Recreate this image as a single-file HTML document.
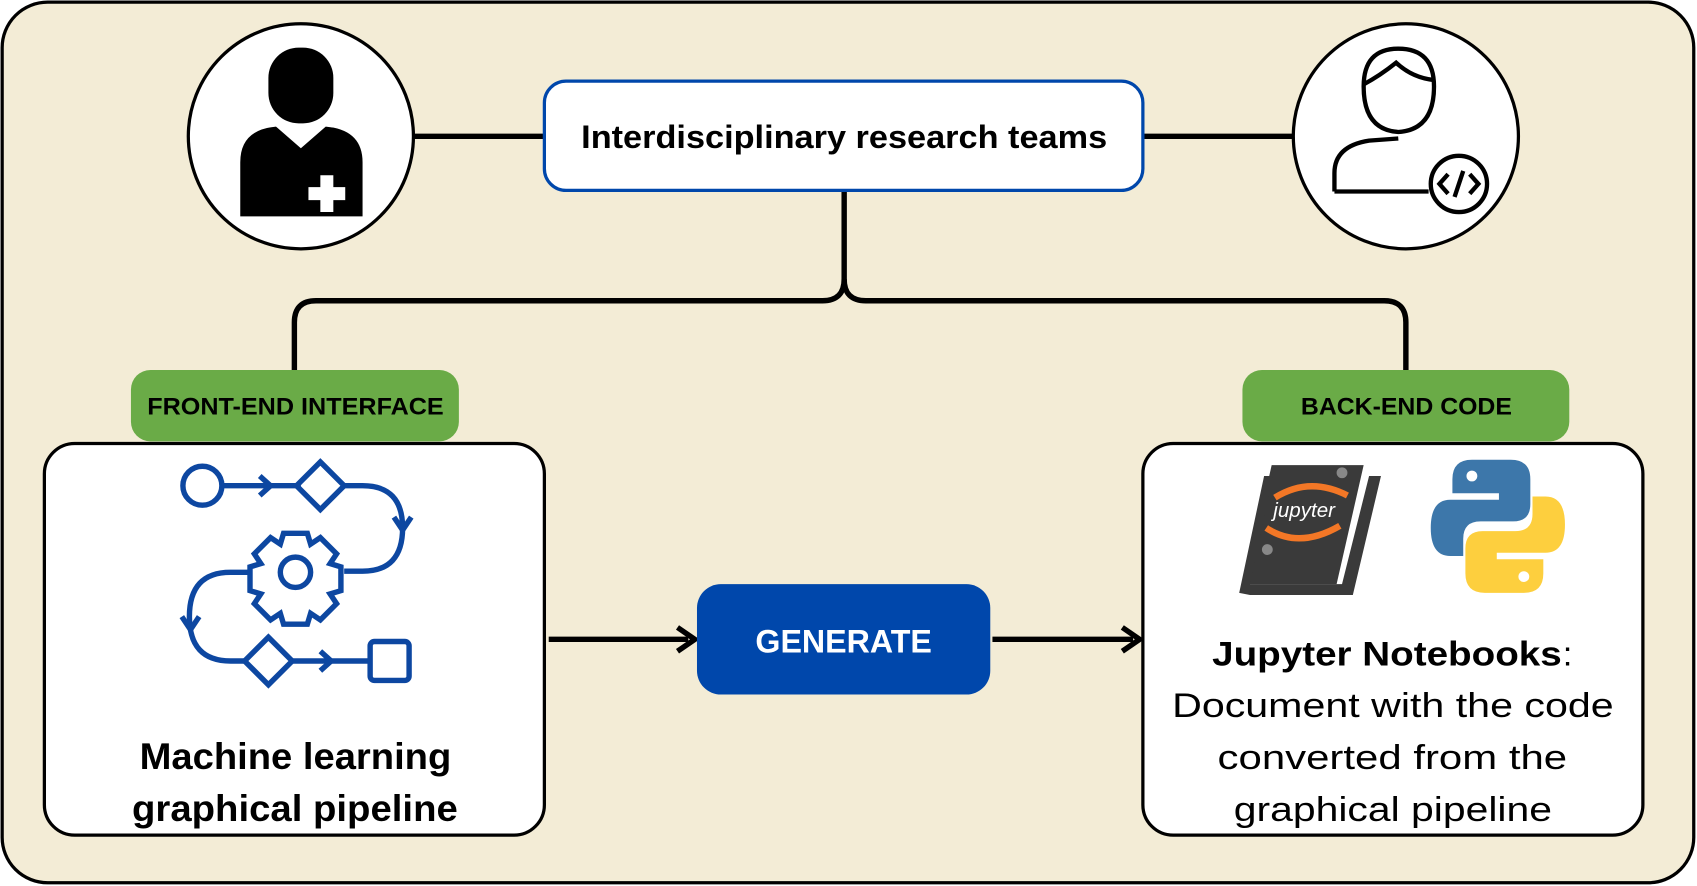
<!DOCTYPE html>
<html><head><meta charset="utf-8"><style>
html,body{margin:0;padding:0;background:#fff;}
svg{display:block;}
text{font-family:"Liberation Sans",sans-serif;}
</style></head><body>
<svg width="1697" height="886" viewBox="0 0 1568 819" preserveAspectRatio="none" xmlns="http://www.w3.org/2000/svg">
<rect x="2" y="2" width="1563" height="814" rx="42" fill="#f3ecd6" stroke="#000" stroke-width="3"/>
<g stroke="#000" stroke-width="5" fill="none">
<line x1="382" y1="126" x2="503" y2="126"/>
<line x1="1057" y1="126" x2="1195" y2="126"/>
<path d="M780 176 V258 Q780 278 760 278 H292 Q272 278 272 298 V342"/>
<path d="M780 258 Q780 278 800 278 H1279 Q1299 278 1299 298 V342"/>
<line x1="507" y1="591" x2="636" y2="591"/>
<path d="M626 580 L642 591 L626 602"/>
<line x1="917" y1="591" x2="1047" y2="591"/>
<path d="M1037 580 L1053 591 L1037 602"/>
</g>
<circle cx="278" cy="126" r="104" fill="#fff" stroke="#000" stroke-width="3"/>
<circle cx="1299" cy="126" r="104" fill="#fff" stroke="#000" stroke-width="3"/>
<rect x="248" y="44" width="60" height="70" rx="28" fill="#000"/>
<path d="M222 200 V150 Q222 120 255 117 L278 137 L301 117 Q335 120 335 150 V200 Z" fill="#000"/>
<path d="M296 162 h12 v11 h11 v12 h-11 v11 h-12 v-11 h-11 v-12 h11 z" fill="#fff"/>
<g fill="none" stroke="#000" stroke-width="4">
<path d="M1260 80 Q1260 45 1292 45 Q1325 45 1325 80 Q1325 120 1292 122 Q1260 120 1260 80 Z"/>
<path d="M1260 78 Q1275 70 1290 58 Q1305 72 1325 74"/>
<path d="M1233 177 V160 Q1233 135 1265 130 L1292 128"/>
<path d="M1233 177 H1320"/>
<circle cx="1348" cy="170" r="26"/>
<path d="M1338 161 L1330 170 L1338 179 M1358 161 L1366 170 L1358 179 M1352 158 L1344 182"/>
</g>
<rect x="503" y="75" width="553" height="101" rx="20" fill="#fff" stroke="#0047ab" stroke-width="3"/>
<text x="537" y="137" font-size="30" font-weight="bold" textLength="486" lengthAdjust="spacingAndGlyphs">Interdisciplinary research teams</text>
<rect x="121" y="342" width="303" height="66" rx="18" fill="#6aab47"/>
<text x="136" y="383" font-size="22" font-weight="bold" textLength="274" lengthAdjust="spacingAndGlyphs">FRONT-END INTERFACE</text>
<rect x="1148" y="342" width="302" height="66" rx="18" fill="#6aab47"/>
<text x="1202" y="383" font-size="22" font-weight="bold" textLength="195" lengthAdjust="spacingAndGlyphs">BACK-END CODE</text>
<rect x="41" y="410" width="462" height="362" rx="28" fill="#fff" stroke="#000" stroke-width="3"/>
<rect x="1056" y="410" width="462" height="362" rx="28" fill="#fff" stroke="#000" stroke-width="3"/>
<g fill="none" stroke="#0d47a1" stroke-width="5">
<circle cx="187" cy="449" r="18"/>
<line x1="205" y1="449" x2="278" y2="449"/>
<path d="M240 440 L250 449 L240 458"/>
<path d="M296 427 L318 449 L296 471 L274 449 Z"/>
<path d="M318 449 H335 Q372 449 372 488 Q372 528 335 528 H318"/>
<path d="M364 478 L372 490 L380 478"/>
<circle cx="273" cy="529" r="14"/>
<path d="M262 493 h22 l3 10 l9 -6 l15 15 l-6 9 l10 3 v22 l-10 3 l6 9 l-15 15 l-9 -6 l-3 10 h-22 l-3 -10 l-9 6 l-15 -15 l6 -9 l-10 -3 v-22 l10 -3 l-6 -9 l15 -15 l9 6 z"/>
<path d="M230 529 H213 Q175 529 175 570 Q175 611 213 611 H226"/>
<path d="M168 570 L176 582 L184 570"/>
<path d="M248 589 L270 611 L248 633 L226 611 Z"/>
<line x1="270" y1="611" x2="342" y2="611"/>
<path d="M296 602 L306 611 L296 620"/>
<rect x="342" y="593" width="36" height="36" rx="4"/>
</g>
<text x="129" y="711" font-size="34" font-weight="bold" textLength="288" lengthAdjust="spacingAndGlyphs">Machine learning</text>
<text x="122" y="759" font-size="34" font-weight="bold" textLength="301" lengthAdjust="spacingAndGlyphs">graphical pipeline</text>
<rect x="644" y="540" width="271" height="102" rx="22" fill="#0047ab"/>
<text x="698" y="603" font-size="30" font-weight="bold" fill="#fff" textLength="163" lengthAdjust="spacingAndGlyphs">GENERATE</text>
<path d="M1150 540 L1175 430 H1260 L1235 540 Z" fill="#3a3a3a"/>
<path d="M1145 548 L1168 440 L1176 440 L1155 540 H1240 L1265 440 H1276 L1250 550 H1155 Z" fill="#3a3a3a"/>
<path d="M1178 460 Q1210 440 1245 458" stroke="#f37726" stroke-width="6" fill="none"/>
<path d="M1170 488 Q1200 508 1238 486" stroke="#f37726" stroke-width="6" fill="none"/>
<text x="1205" y="478" font-size="19" font-style="italic" fill="#fff" text-anchor="middle">jupyter</text>
<circle cx="1240" cy="437" r="5" fill="#888"/>
<circle cx="1171" cy="508" r="5" fill="#888"/>
<path d="M1384 425 H1360 Q1342 425 1342 443 V456 H1385 V462 H1340 Q1322 462 1322 488 Q1322 514 1340 514 H1352 V498 Q1352 482 1368 482 H1398 Q1414 482 1414 466 V443 Q1414 425 1396 425 Z" fill="#3d77aa"/>
<path d="M1384 548 H1408 Q1426 548 1426 530 V517 H1383 V511 H1428 Q1446 511 1446 485 Q1446 459 1428 459 H1416 V475 Q1416 491 1400 491 H1370 Q1354 491 1354 507 V530 Q1354 548 1372 548 Z" fill="#fdcf3e"/>
<circle cx="1360" cy="440" r="5" fill="#fff"/>
<circle cx="1408" cy="533" r="5" fill="#fff"/>
<text x="1120" y="615" font-size="32" font-weight="bold" textLength="323" lengthAdjust="spacingAndGlyphs">Jupyter Notebooks</text>
<text x="1444" y="615" font-size="32">:</text>
<text x="1083" y="663" font-size="32" textLength="408" lengthAdjust="spacingAndGlyphs">Document with the code</text>
<text x="1125" y="711" font-size="32" textLength="323" lengthAdjust="spacingAndGlyphs">converted from the</text>
<text x="1140" y="759" font-size="32" textLength="294" lengthAdjust="spacingAndGlyphs">graphical pipeline</text>
</svg>
</body></html>
